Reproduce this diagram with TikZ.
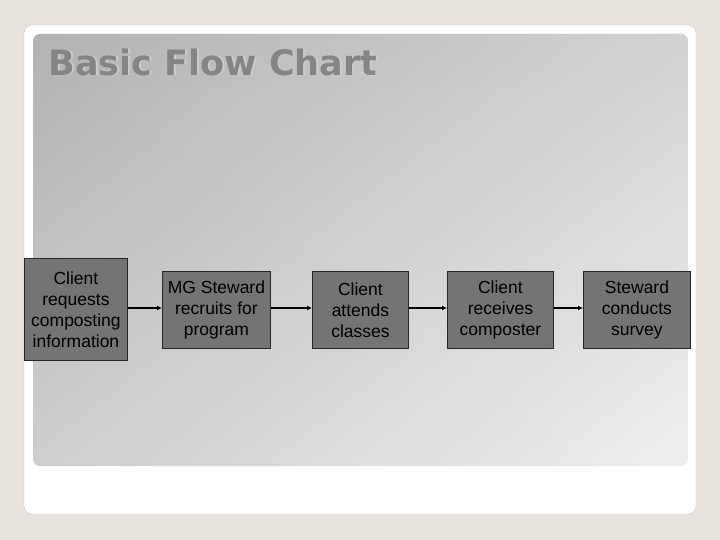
\documentclass[tikz,border=0pt]{standalone}
\usepackage{fontspec}
\setmainfont{Liberation Sans}
\newfontfamily\titlefont{DejaVu Sans}
\usetikzlibrary{arrows.meta}
\definecolor{bgbeige}{HTML}{E8E4DC}
\definecolor{boxgray}{HTML}{747474}
\definecolor{titlegray}{HTML}{858585}
\begin{document}
\begin{tikzpicture}[x=1pt,y=-1pt,
  stepbox/.style={draw=black!85,line width=0.9pt,fill=boxgray,align=center,font=\fontsize{17.5}{21}\selectfont,inner sep=0pt,anchor=north west},
  link/.style={draw=black,line width=1.2pt,-{Latex[length=5pt,width=5pt]}}]
\useasboundingbox (0,0) rectangle (720,540);
\fill[bgbeige] (0,0) rectangle (720,540);
\fill[white,draw=black!20] (24,25) [rounded corners=8pt] rectangle (696,514);
\begin{scope}
\clip[rounded corners=7pt] (33,34) rectangle (688,466);
\shade[top color=black!30,bottom color=black!8] (33,34) rectangle (688,466);
\shade[left color=black!30,right color=black!5,opacity=0.5] (33,34) rectangle (688,466);
\end{scope}
\node[anchor=west,font=\titlefont\bfseries\fontsize{35}{40}\selectfont,text=white!60!gray] at (46.8,62.8) {Basic Flow Chart};
\node[anchor=west,font=\titlefont\bfseries\fontsize{35}{40}\selectfont,text=titlegray] (title) at (45,62) {Basic Flow Chart};
\node[stepbox,minimum width=103pt,minimum height=102pt] (b1) at (24,258) {Client\\requests\\composting\\information};
\node[stepbox,minimum width=108pt,minimum height=77pt] (b2) at (162,271) {MG Steward\\recruits for\\program};
\node[stepbox,minimum width=96pt,minimum height=77pt] (b3) at (312,271) {Client\\attends\\classes};
\node[stepbox,minimum width=106pt,minimum height=77pt] (b4) at (447,271) {Client\\receives\\composter};
\node[stepbox,minimum width=107pt,minimum height=77pt] (b5) at (583,271) {Steward\\conducts\\survey};
\draw[link] (b1.east|-0,308) -- (b2.west|-0,308);
\draw[link] (b2.east|-0,308) -- (b3.west|-0,308);
\draw[link] (b3.east|-0,308) -- (b4.west|-0,308);
\draw[link] (b4.east|-0,308) -- (b5.west|-0,308);
\end{tikzpicture}
\end{document}
